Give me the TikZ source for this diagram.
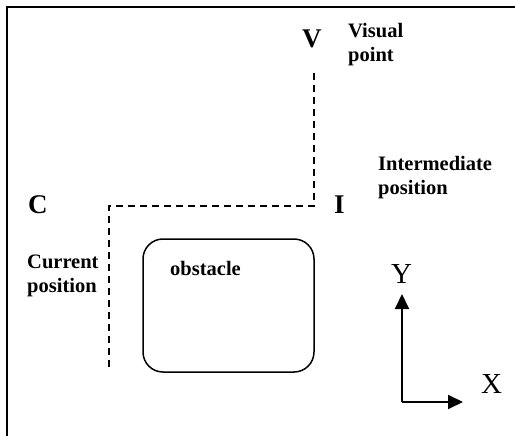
\documentclass[tikz,border=0pt]{standalone}
\usepackage{fontspec}
\setmainfont{Liberation Serif}
\usetikzlibrary{arrows.meta}
\begin{document}
\begin{tikzpicture}[x=1pt,y=-1pt,
  bigletter/.style={font=\fontsize{27}{30}\selectfont\bfseries, inner sep=0pt, anchor=base west},
  tag/.style={font=\fontsize{20.5}{24}\selectfont\bfseries, inner sep=0pt, anchor=base west, align=left},
  axislabel/.style={font=\fontsize{29}{32}\selectfont, inner sep=0pt, anchor=base west},
  route/.style={line width=1.3pt, dash pattern=on 7pt off 5pt},
  axis/.style={line width=2pt, -{Triangle[length=15pt,width=14pt]}}]
\useasboundingbox (0,0) rectangle (515,436);
% outer frame (top and left edges)
\draw[line width=2.5pt] (7,436) -- (7,7) -- (515,7);

% points of the route
\node[bigletter] (V) at (302,48) {V};
\node[bigletter] (C) at (28,213) {C};
\node[bigletter] (I) at (334,213) {I};

% descriptions (anchored at the baseline of their last line)
\node[tag] (visual) at (348,62) {Visual\\point};
\node[tag] (inter) at (378,194) {Intermediate\\position};
\node[tag] (current) at (27,292) {Current\\position};

% obstacle
\node[draw, line width=1.5pt, rounded corners=20pt, minimum width=171pt, minimum height=133pt, inner sep=0pt] (obs) at (228.5,305.5) {};
\node[tag] (obslabel) at (170,276) {obstacle};

% dashed route: from the visual point via the intermediate position down past the current position
\coordinate (r1) at (314,73);
\coordinate (r2) at (314,206);
\coordinate (r3) at (109,206);
\coordinate (r4) at (109,367);
\draw[route] (r1) -- (r2) -- (r3) -- (r4);

% axes
\coordinate (origin) at (402,402);
\coordinate (ytip) at (402,294);
\coordinate (xtip) at (463,402);
\draw[axis] (origin) -- (ytip);
\draw[axis] (origin) -- (xtip);
\node[axislabel] (Y) at (391,283) {Y};
\node[axislabel] (X) at (481,393) {X};
\end{tikzpicture}
\end{document}
